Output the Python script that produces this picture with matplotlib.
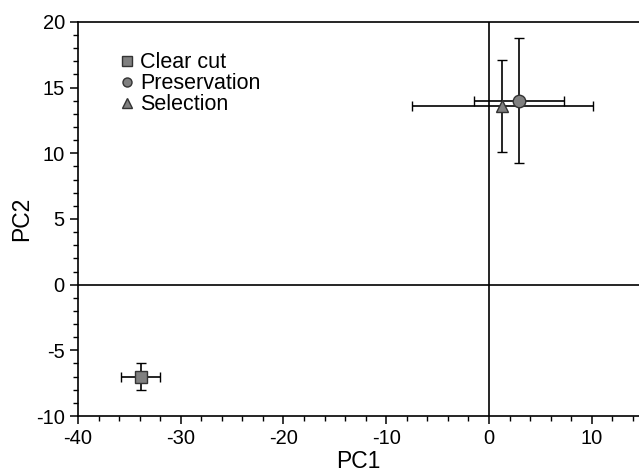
import numpy as np
import matplotlib
matplotlib.use("Agg")
import matplotlib.pyplot as plt
from matplotlib.ticker import MultipleLocator

plt.rcParams['font.family'] = ['Liberation Sans', 'DejaVu Sans']
plt.rcParams['axes.unicode_minus'] = False

# --- data ---
groups = ["Clear cut", "Preservation", "Selection"]
pc1 = [-33.9, 2.9, 1.3]
pc2 = [-7.0, 14.0, 13.6]
pc1_err = [1.9, 4.4, 8.8]
pc2_err = [1.0, 4.75, 3.5]
markers = ["s", "o", "^"]
msizes = [9, 9, 8]

fig = plt.figure(figsize=(6.39, 4.76), dpi=100)
ax = fig.add_axes([0.122, 0.126, 0.878, 0.828])

# reference lines through origin
ax.axhline(0, color="black", lw=1.2, zorder=1)
ax.axvline(0, color="black", lw=1.2, zorder=1)

for g, x, y, xe, ye, m, ms in zip(groups, pc1, pc2, pc1_err, pc2_err, markers, msizes):
    ax.errorbar(x, y, xerr=xe, yerr=ye, fmt=m, ms=ms, color="black",
                mfc="#808080", mec="#333333", mew=1.0, ecolor="black",
                elinewidth=1.2, capsize=3.6, capthick=1.2, label=g, zorder=3)

ax.set_xlim(-40, 14.6)
ax.set_ylim(-10, 20)
ax.xaxis.set_major_locator(MultipleLocator(10))
ax.xaxis.set_minor_locator(MultipleLocator(2))
ax.yaxis.set_major_locator(MultipleLocator(5))
ax.yaxis.set_minor_locator(MultipleLocator(1))
ax.tick_params(which="major", length=6, width=1.1, labelsize=14.5, direction="out")
ax.tick_params(which="minor", length=3.5, width=1.0, direction="out")
ax.spines["right"].set_visible(False)
for s in ["left", "bottom", "top"]:
    ax.spines[s].set_linewidth(1.2)

ax.set_xlabel("PC1", fontsize=16.5, labelpad=1)
ax.set_ylabel("PC2", fontsize=16.5, labelpad=2)

# legend with markers only (no error bars)
handles = [plt.Line2D([], [], ls="none", marker=m, ms=6.5, mfc="#808080",
                      mec="#333333", mew=1.0) for m in markers]
ax.legend(handles, groups, loc="upper left", bbox_to_anchor=(0.055, 0.945),
          frameon=False, fontsize=15.5, handletextpad=0.15, labelspacing=0.0,
          handlelength=0.9, borderaxespad=0)

fig.savefig("out.png", dpi=100)
